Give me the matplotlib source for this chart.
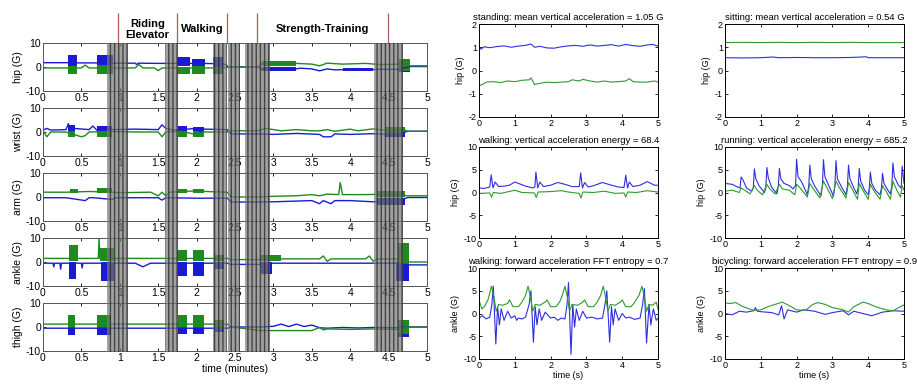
import numpy as np
import matplotlib
matplotlib.use("Agg")
import matplotlib.pyplot as plt

plt.rcParams["font.family"] = ["Liberation Sans", "DejaVu Sans"]
plt.rcParams["axes.unicode_minus"] = False
plt.rcParams["hatch.linewidth"] = 1.0

BLUE = "#1a1ad6"
GREEN = "#1f8a1f"

# ---------------- left panel data (time in minutes) ----------------
sensors = ["hip", "wrist", "arm", "ankle", "thigh"]

hip_blue = [(0, 1.8), (0.33, 1.8), (0.44, 1.7), (0.70, 1.7), (0.91, 1.6), (1.2, 1.6), (1.22, 1.0), (1.24, 1.6),
            (1.5, 1.5), (1.74, 1.5), (2.11, 1.5), (2.22, 1.4), (2.35, 1.4), (2.42, 0.0), (2.8, 0.0), (2.85, -1.0),
            (3.0, -0.6), (3.2, -1.2), (3.35, -0.5), (3.5, -0.8), (3.6, -1.6), (3.7, -0.8), (3.8, -1.2),
            (4.0, -1.0), (4.2, -1.3), (4.4, -0.9), (4.63, -1.0), (4.78, 0.2), (5.0, 0.2)]
hip_blue_bursts = [(0.33, 0.44, 0, 5), (0.70, 0.91, 0, 5), (1.74, 1.91, 0.5, 4), (1.94, 2.11, 0.5, 3.5),
                   (2.22, 2.35, 0, 4), (2.85, 3.3, -1.8, -0.2), (3.9, 4.3, -1.8, -0.3), (4.63, 4.78, -2, 1)]
hip_green = [(0, -0.4), (0.5, -0.4), (0.55, 0.8), (0.6, -0.4), (1.2, -0.4), (1.25, 1.0), (1.3, -0.4),
             (1.45, -0.4), (1.5, -1.5), (1.55, -0.4), (2.35, -0.4), (2.42, 0.0), (2.8, 0.0), (2.85, 1.5),
             (3.0, 1.0), (3.3, 1.5), (3.5, 1.2), (3.6, 0.5), (3.7, 1.6), (3.9, 1.2), (4.2, 1.5), (4.4, 1.0),
             (4.63, 1.2), (4.78, 0.5), (5.0, 0.5)]
hip_green_bursts = [(0.33, 0.44, -3, 0.5), (0.70, 0.91, -3, 1), (1.74, 1.91, -3, 0), (1.94, 2.11, -3, 0.5),
                    (2.22, 2.35, -3, 0), (2.85, 3.3, 0.3, 2.5), (4.63, 4.78, -1.5, 3.3)]

wrist_blue = [(0, 0.8), (0.05, 1.5), (0.1, 0.8), (0.3, 1.0), (0.33, 3.5), (0.36, 0.5), (0.4, 1.5), (0.6, 1.0),
              (0.65, 2.5), (0.7, 0.8), (0.9, 1.0), (1.2, 1.2), (1.5, 1.0), (1.55, 3.0), (1.6, 1.5), (1.7, 0.8),
              (2.0, 1.5), (2.05, 0.0), (2.1, 1.2), (2.4, 1.0), (2.45, -0.8), (2.8, -0.8), (3.0, -1.0),
              (3.3, -0.6), (3.6, -1.0), (3.65, -2.0), (3.75, -2.0), (3.8, -0.8), (4.0, -1.0), (4.3, -0.7),
              (4.6, -1.2), (4.75, 0.3), (5.0, 0.3)]
wrist_blue_bursts = [(0.33, 0.42, 0, 3), (0.7, 0.9, 0, 2.5), (1.76, 1.88, 0, 2.5), (1.95, 2.1, 0, 2),
                     (4.45, 4.72, -2.2, 0.3)]
wrist_green = [(0, 0.5), (0.05, -2.0), (0.1, 0.0), (0.3, 0.0), (0.5, -2.0), (0.55, -1.5), (0.6, 0.0),
               (0.9, 0.2), (1.2, 0.0), (1.5, 0.0), (1.55, -2.0), (1.6, 0.0), (1.8, 0.3), (2.05, -1.5),
               (2.1, 0.0), (2.4, 0.0), (2.45, 0.5), (2.8, 0.5), (2.9, 1.5), (3.1, 0.5), (3.3, 1.0), (3.5, 0.5),
               (3.6, 0.5), (3.7, 1.0), (3.8, 0.3), (4.0, 1.2), (4.1, 0.5), (4.3, 1.3), (4.5, 0.5), (4.7, 1.0),
               (4.75, 0.3), (5.0, 0.3)]
wrist_green_bursts = [(0.33, 0.42, -2, 0.5), (0.7, 0.9, -2, 0.5), (1.76, 1.88, -2, 0.5), (1.95, 2.1, -2, 0.3),
                      (4.45, 4.72, -0.5, 2)]

arm_blue = [(0, -0.3), (0.3, -0.3), (0.55, -1.5), (0.6, -0.3), (0.65, -0.3), (0.9, -1.0), (0.95, -0.3),
            (1.5, -0.3), (1.55, -1.3), (1.6, -0.3), (2.0, -0.5), (2.4, -0.5), (2.45, -2.1), (2.8, -2.1),
            (3.0, -2.0), (3.3, -1.7), (3.5, -1.5), (3.6, -2.8), (3.65, -1.5), (3.75, -2.8), (3.8, -1.5),
            (4.0, -1.5), (4.3, -2.0), (4.6, -1.8), (4.75, -0.2), (5.0, -0.2)]
arm_blue_bursts = [(4.35, 4.72, -3.2, -0.5)]
arm_green = [(0, 2.0), (0.3, 2.0), (0.6, 2.3), (0.9, 2.0), (1.0, 1.8), (1.4, 2.0), (1.5, 0.5), (1.55, 2.0),
             (1.6, 0.5), (1.65, 2.0), (1.8, 2.3), (2.0, 2.5), (2.2, 2.2), (2.4, 2.0), (2.45, 0.0), (2.8, 0.0),
             (3.0, 0.3), (3.3, 0.5), (3.5, 1.0), (3.6, 0.5), (3.7, 1.2), (3.85, 1.0), (3.87, 6.0), (3.9, 1.0),
             (4.2, 1.0), (4.5, 1.2), (4.75, 0.5), (5.0, 0.5)]
arm_green_bursts = [(0.35, 0.45, 1.5, 3.5), (0.7, 0.9, 1.5, 3.8), (1.76, 1.88, 1.5, 3.5), (1.95, 2.1, 1.5, 3.2),
                    (4.35, 4.72, 0, 2.5)]

ankle_blue = [(0, -0.5), (0.13, -0.5), (0.14, -2.0), (0.15, -0.5), (0.22, -0.5), (0.23, -3.0), (0.24, -0.5),
              (0.5, -0.5), (0.51, -2.5), (0.52, -0.5), (1.2, -0.5), (1.3, -2.0), (1.4, -0.5), (2.4, -0.5),
              (2.45, -1.0), (2.8, -1.0), (3.0, -0.5), (4.6, -0.5), (4.76, -1.2), (5.0, -1.2)]
ankle_blue_bursts = [(0.34, 0.43, -7, 0), (0.76, 0.92, -8, 0), (1.74, 1.88, -6, 0), (1.95, 2.1, -6, 0),
                     (2.24, 2.36, -3, 0), (2.84, 2.98, -5, 0), (4.6, 4.76, -8, 0)]
ankle_green = [(0, 1.5), (0.72, 1.5), (0.73, 10.0), (0.74, 1.5), (2.4, 1.5), (2.45, 1.0), (2.8, 1.0),
               (3.0, 1.3), (3.6, 1.3), (3.65, 2.5), (3.7, 0.3), (3.75, 1.3), (4.2, 1.3), (4.25, 2.5),
               (4.3, 0.3), (4.35, 1.3), (4.6, 1.3), (4.76, 0.0), (5.0, 0.0)]
ankle_green_bursts = [(0.34, 0.45, 0.5, 7), (0.74, 0.92, 0.5, 6), (1.74, 1.88, 0.5, 5), (1.95, 2.1, 0.5, 5),
                      (2.24, 2.36, 0.5, 3), (2.84, 3.1, 0.5, 2.8), (4.62, 4.76, -1, 8)]

thigh_blue = [(0, -0.5), (2.4, -0.5), (2.45, 0.0), (2.85, 0.0), (3.0, 0.3), (3.1, 1.2), (3.2, 0.2),
              (3.3, 1.2), (3.4, 0.2), (3.5, 0.8), (3.6, -0.3), (3.7, -0.5), (3.9, -0.2), (4.1, -0.4),
              (4.3, -0.2), (4.6, -0.3), (4.76, 0.0), (5.0, 0.0)]
thigh_blue_bursts = [(0.33, 0.42, -3.5, 0), (0.70, 0.88, -3.5, 0), (1.76, 1.87, -3, 0), (1.95, 2.1, -3, 0),
                     (2.24, 2.36, -2, 0), (4.62, 4.76, -4, 0)]
thigh_green = [(0, 1.2), (2.4, 1.2), (2.45, 0.0), (2.85, -1.5), (3.5, -1.5), (3.6, -0.2), (3.65, -1.2),
               (3.7, -0.8), (4.0, -1.0), (4.3, -0.8), (4.6, -1.0), (4.76, 0.0), (5.0, 0.0)]
thigh_green_bursts = [(0.33, 0.42, -0.5, 5), (0.70, 0.88, -0.5, 5), (1.76, 1.87, -0.5, 5), (1.95, 2.1, -0.5, 5),
                      (2.24, 2.36, 0, 3), (4.62, 4.76, -3, 3)]

left_blue = [hip_blue, wrist_blue, arm_blue, ankle_blue, thigh_blue]
left_blue_bursts = [hip_blue_bursts, wrist_blue_bursts, arm_blue_bursts, ankle_blue_bursts, thigh_blue_bursts]
left_green = [hip_green, wrist_green, arm_green, ankle_green, thigh_green]
left_green_bursts = [hip_green_bursts, wrist_green_bursts, arm_green_bursts, ankle_green_bursts, thigh_green_bursts]

# transition periods (gray) and activity labels
gray_bands = [(0.83, 1.11), (1.59, 1.76), (2.21, 2.40), (2.41, 2.57), (2.63, 2.96), (4.31, 4.69)]
label_lines = [0.98, 1.74, 2.40, 2.79, 4.49]
activity_labels = ["Riding\nElevator", "Walking", "Strength-Training"]
activity_pos = [1.36, 2.07, 3.64]

# ---------------- right panel data (time in seconds) ----------------
stand_blue = [(0, 1.0), (0.05, 0.92), (0.15, 1.02), (0.3, 0.98), (0.5, 1.03), (0.7, 1.06), (0.9, 1.0),
              (1.1, 1.05), (1.3, 1.08), (1.45, 1.14), (1.55, 1.0), (1.7, 1.04), (1.9, 0.97), (2.1, 0.96),
              (2.3, 1.02), (2.5, 1.06), (2.7, 1.08), (2.9, 1.04), (3.1, 1.1), (3.3, 1.05), (3.5, 1.08),
              (3.7, 1.11), (3.9, 1.05), (4.1, 1.12), (4.3, 1.07), (4.5, 1.04), (4.7, 1.1), (4.85, 1.12), (5.0, 1.05)]
stand_green = [(0, -0.65), (0.1, -0.6), (0.2, -0.5), (0.4, -0.48), (0.6, -0.52), (0.8, -0.45), (1.0, -0.48),
               (1.2, -0.42), (1.4, -0.4), (1.45, -0.32), (1.5, -0.45), (1.55, -0.6), (1.7, -0.55), (1.9, -0.5),
               (2.1, -0.52), (2.3, -0.5), (2.5, -0.48), (2.6, -0.4), (2.8, -0.45), (2.9, -0.38), (3.1, -0.45),
               (3.3, -0.5), (3.5, -0.45), (3.7, -0.5), (3.9, -0.48), (4.1, -0.45), (4.2, -0.35), (4.3, -0.48),
               (4.5, -0.5), (4.7, -0.5), (4.9, -0.45), (5.0, -0.5)]

sit_blue = [(0, 0.55), (0.5, 0.54), (1.0, 0.55), (1.35, 0.58), (1.5, 0.55), (2.0, 0.56), (2.5, 0.55),
            (3.0, 0.55), (3.5, 0.56), (3.95, 0.59), (4.0, 0.55), (4.5, 0.55), (5.0, 0.55)]
sit_green = [(0, 1.2), (0.5, 1.21), (1.0, 1.2), (1.5, 1.21), (2.0, 1.2), (2.5, 1.21), (3.0, 1.2),
             (3.5, 1.21), (4.0, 1.2), (4.5, 1.2), (5.0, 1.2)]

walk_hip_blue = [(0, 1.0), (0.15, 0.9), (0.3, 1.2), (0.34, 3.9), (0.39, 1.0), (0.45, 2.3), (0.55, 1.3),
                 (0.7, 1.4), (0.85, 1.6), (1.0, 2.3), (1.1, 2.0), (1.3, 1.4), (1.5, 1.0), (1.56, 1.2),
                 (1.59, 4.5), (1.64, 1.0), (1.7, 2.3), (1.8, 1.3), (2.0, 1.6), (2.2, 2.2), (2.4, 1.8),
                 (2.6, 1.3), (2.8, 1.3), (2.84, 4.3), (2.89, 1.0), (2.95, 2.2), (3.05, 1.2), (3.2, 1.5),
                 (3.45, 2.2), (3.7, 1.6), (3.9, 1.2), (4.05, 1.1), (4.1, 3.8), (4.15, 1.0), (4.2, 2.3),
                 (4.3, 1.3), (4.5, 1.6), (4.7, 2.4), (4.9, 1.6), (5.0, 1.6)]
walk_hip_green = [(0, -0.2), (0.3, -0.1), (0.35, -1.0), (0.4, 0.0), (0.6, -0.2), (1.0, 0.5), (1.2, 0.0),
                  (1.55, -0.1), (1.6, -1.1), (1.65, 0.1), (2.0, 0.2), (2.3, 0.4), (2.5, 0.1), (2.8, -0.2),
                  (2.85, -1.2), (2.9, 0.1), (3.2, 0.0), (3.5, 0.3), (3.8, -0.2), (4.05, -0.1), (4.1, -1.0),
                  (4.15, 0.1), (4.4, 0.0), (4.7, 0.4), (5.0, 0.1)]

run_hip_blue = [(0, 2.0), (0.2, 1.8), (0.35, 1.2), (0.42, 1.0), (0.45, 3.4), (0.5, 2.8), (0.6, 1.0),
                (0.75, 0.3), (0.79, 1.0), (0.82, 5.2), (0.86, 3.0), (0.95, 1.5), (1.1, 0.0), (1.14, 1.0),
                (1.17, 5.5), (1.21, 3.2), (1.3, 1.2), (1.45, -0.3), (1.49, 1.5), (1.52, 5.3), (1.56, 3.0),
                (1.65, 2.0), (1.8, 1.5), (1.9, 0.8), (1.97, 1.5), (2.0, 7.3), (2.04, 3.5), (2.15, 2.2),
                (2.3, -0.5), (2.34, 1.5), (2.37, 6.0), (2.41, 3.0), (2.5, 1.5), (2.68, -0.8), (2.72, 1.5),
                (2.75, 7.2), (2.79, 3.5), (2.9, 1.5), (3.03, -0.8), (3.07, 1.5), (3.1, 7.0), (3.14, 3.0),
                (3.25, 1.3), (3.38, -0.5), (3.42, 1.5), (3.45, 6.0), (3.49, 3.0), (3.6, 1.0), (3.68, -0.3),
                (3.72, 1.0), (3.75, 5.3), (3.79, 2.5), (3.9, 0.5), (4.0, -0.5), (4.03, 1.0), (4.06, 4.5),
                (4.1, 2.0), (4.2, 0.5), (4.33, -0.5), (4.37, 1.0), (4.4, 4.2), (4.44, 2.0), (4.55, 0.5),
                (4.62, -0.3), (4.66, 1.5), (4.69, 6.5), (4.73, 3.5), (4.85, 1.5), (4.92, 1.0), (4.95, 5.8),
                (5.0, 2.0)]
run_hip_green = [(0, 0.3), (0.2, 0.5), (0.4, 0.0), (0.45, 1.0), (0.55, 0.5), (0.7, -0.3), (0.82, 1.5),
                 (0.9, 0.5), (1.05, -0.5), (1.17, 1.8), (1.25, 0.8), (1.4, -0.3), (1.52, 1.8), (1.6, 0.8),
                 (1.8, 0.5), (1.95, -0.5), (2.0, 1.8), (2.1, 1.0), (2.3, -1.0), (2.37, 2.0), (2.45, 1.0),
                 (2.65, -1.2), (2.75, 2.5), (2.85, 1.0), (3.0, -1.3), (3.1, 2.5), (3.2, 1.0), (3.38, -1.2),
                 (3.45, 2.2), (3.55, 0.8), (3.7, -1.5), (3.75, 2.0), (3.85, 0.5), (4.0, -1.5), (4.06, 1.8),
                 (4.15, 0.5), (4.33, -1.5), (4.4, 1.5), (4.5, 0.3), (4.62, -1.5), (4.69, 2.5), (4.8, 0.5),
                 (4.9, -1.0), (4.95, 1.5), (5.0, 0.5)]

walk_ank_blue = [(0, -1.0), (0.1, -0.5), (0.2, -1.2), (0.3, -0.8), (0.36, 2.0), (0.4, 6.0), (0.47, -6.7),
                 (0.52, 1.5), (0.57, -2.5), (0.62, 1.0), (0.7, -1.5), (0.8, 0.5), (0.9, -1.0), (1.0, -0.5),
                 (1.05, -1.5), (1.1, -1.0), (1.2, -1.2), (1.3, -0.8), (1.4, 2.0), (1.45, 5.0), (1.52, -6.3),
                 (1.57, 1.5), (1.62, -2.5), (1.68, 1.0), (1.75, -1.5), (1.85, 0.3), (2.0, -1.0), (2.1, -0.8),
                 (2.2, -1.5), (2.3, -1.0), (2.4, -1.2), (2.46, 2.0), (2.5, 6.8), (2.57, -9.0), (2.62, 2.0),
                 (2.67, -3.0), (2.72, 1.0), (2.8, -1.5), (2.9, 0.5), (3.0, -1.0), (3.15, -0.8), (3.3, -1.2),
                 (3.45, -1.0), (3.52, 2.0), (3.57, 5.0), (3.65, -6.3), (3.7, 1.5), (3.75, -2.5), (3.8, 1.0),
                 (3.9, -1.5), (4.0, 0.0), (4.1, -1.0), (4.2, -0.8), (4.35, -1.3), (4.5, -1.0), (4.57, 2.0),
                 (4.62, 5.5), (4.68, -6.5), (4.75, 2.0), (4.8, -2.5), (4.87, 1.0), (4.95, -1.5), (5.0, -1.0)]
walk_ank_green = [(0, 3.0), (0.08, 1.0), (0.15, 1.5), (0.25, 3.0), (0.35, 6.0), (0.42, 3.5), (0.48, 0.5),
                  (0.55, 2.0), (0.65, 1.8), (0.8, 2.2), (0.85, 3.0), (0.95, 1.5), (1.1, 1.5), (1.2, 2.5),
                  (1.3, 4.0), (1.37, 6.0), (1.44, 3.5), (1.5, 0.5), (1.57, 2.0), (1.7, 1.8), (1.85, 2.5),
                  (1.9, 3.0), (2.0, 1.5), (2.15, 1.5), (2.25, 2.5), (2.33, 4.0), (2.4, 6.0), (2.47, 3.5),
                  (2.53, 0.5), (2.6, 2.0), (2.75, 1.8), (2.9, 2.5), (2.95, 3.0), (3.05, 1.5), (3.2, 1.5),
                  (3.3, 2.5), (3.4, 4.0), (3.47, 6.0), (3.54, 3.5), (3.6, 0.5), (3.67, 2.0), (3.8, 1.8),
                  (3.95, 2.5), (4.0, 3.0), (4.1, 1.5), (4.25, 1.5), (4.35, 2.5), (4.47, 4.0), (4.55, 6.0),
                  (4.62, 3.5), (4.68, 0.5), (4.75, 2.0), (4.85, 1.8), (4.95, 2.5), (5.0, 1.0)]

bike_ank_blue = [(0, 0.0), (0.2, -0.3), (0.4, 0.5), (0.6, 0.3), (0.8, 0.6), (0.85, 1.3), (0.9, 0.5),
                 (1.0, 0.4), (1.3, 0.2), (1.5, -0.3), (1.58, 1.7), (1.65, -1.2), (1.75, 0.8), (2.0, 0.3),
                 (2.2, 0.8), (2.5, 0.5), (2.8, -0.2), (3.0, 0.2), (3.3, 0.6), (3.45, -0.3), (3.6, 0.5),
                 (3.8, 0.1), (4.1, -0.5), (4.4, 0.3), (4.7, 0.6), (5.0, 0.5)]
bike_ank_green = [(0, 2.3), (0.15, 2.2), (0.3, 2.4), (0.5, 1.5), (0.8, 0.7), (1.0, 0.8), (1.2, 1.5),
                  (1.4, 2.0), (1.6, 2.5), (1.8, 1.7), (2.0, 0.8), (2.2, 0.7), (2.3, 1.0), (2.45, 2.0),
                  (2.6, 2.4), (2.8, 2.0), (3.0, 1.3), (3.3, 0.8), (3.45, 0.3), (3.6, 1.5), (3.85, 2.5),
                  (4.0, 2.2), (4.2, 1.5), (4.5, 0.8), (4.7, 0.6), (4.85, 1.3), (5.0, 1.9)]

right_titles = ["standing: mean vertical acceleration = 1.05 G",
                "sitting: mean vertical acceleration = 0.54 G",
                "walking: vertical acceleration energy = 68.4",
                "running: vertical acceleration energy = 685.2",
                "walking: forward acceleration FFT entropy = 0.7",
                "bicycling: forward acceleration FFT entropy = 0.9"]
right_ylabels = ["hip (G)", "hip (G)", "hip (G)", "hip (G)", "ankle (G)", "ankle (G)"]
right_blue = [stand_blue, sit_blue, walk_hip_blue, run_hip_blue, walk_ank_blue, bike_ank_blue]
right_green = [stand_green, sit_green, walk_hip_green, run_hip_green, walk_ank_green, bike_ank_green]

# ---------------- figure ----------------
W, H = 917, 386
fig = plt.figure(figsize=(W / 100, H / 100), dpi=100)


def px_axes(left, top, width, height):
    return fig.add_axes([left / W, (H - top - height) / H, width / W, height / H])


def style_ticks(ax, size):
    ax.tick_params(direction="in", top=True, right=True, length=2.5, width=0.6,
                   labelsize=size, pad=1.5)


for i, name in enumerate(sensors):
    ax = px_axes(43, 43 + 65 * i, 384, 48)
    for pts, bursts, col in [(left_blue[i], left_blue_bursts[i], BLUE),
                             (left_green[i], left_green_bursts[i], GREEN)]:
        t, v = zip(*pts)
        ax.plot(t, v, color=col, lw=1.0)
        for t0, t1, lo, hi in bursts:
            ax.fill_between([t0, t1], lo, hi, color=col, lw=0)
    ax.set_xlim(0, 5)
    ax.set_ylim(-10, 10)
    ax.set_xticks(np.arange(0, 5.01, 0.5))
    ax.set_xticklabels(["0", "0.5", "1", "1.5", "2", "2.5", "3", "3.5", "4", "4.5", "5"])
    ax.set_yticks([-10, 0, 10])
    style_ticks(ax, 7.5)
    ax.tick_params(right=False)
    for s in ax.spines.values():
        s.set_color("#555555")
        s.set_linewidth(0.7)
    ax.set_ylabel(f"{name} (G)", fontsize=7.5, labelpad=2)
    if i == len(sensors) - 1:
        ax.set_xlabel("time (minutes)", fontsize=7.5, labelpad=1)

# gray transition bands over all five sensor plots
ov = px_axes(43, 43, 384, 309)
ov.set_xlim(0, 5)
ov.set_ylim(0, 1)
ov.axis("off")
for t0, t1 in gray_bands:
    ov.axvspan(t0, t1, facecolor="#7a7a7a", alpha=0.7, edgecolor="#1e1e1e", hatch="||||", lw=0)

# activity labels
hd = px_axes(43, 13, 384, 30)
hd.set_xlim(0, 5)
hd.set_ylim(0, 1)
hd.axis("off")
hd.vlines(label_lines, 0, 1, color="#b35a5a", lw=0.9)
for lab, x in zip(activity_labels, activity_pos):
    hd.text(x, 0.45, lab, ha="center", va="center", fontsize=8, fontweight="bold",
            linespacing=1.1)

# right hand examples
col_left = [479, 725]
row_top = [24, 147, 268]
row_h = [93, 91, 91]
for k in range(6):
    r, c = divmod(k, 2)
    ax = px_axes(col_left[c], row_top[r], 179, row_h[r])
    bt, bv = zip(*right_blue[k])
    gt, gv = zip(*right_green[k])
    ax.plot(bt, bv, color="#2f2fe0", lw=0.8)
    ax.plot(gt, gv, color="#2e9a2e", lw=0.8)
    ax.set_xlim(0, 5)
    if r == 0:
        ax.set_ylim(-2, 2)
        ax.set_yticks([-2, -1, 0, 1, 2])
    else:
        ax.set_ylim(-10, 10)
        ax.set_yticks([-10, -5, 0, 5, 10])
    ax.set_xticks(range(6))
    style_ticks(ax, 6.5)
    for s in ax.spines.values():
        s.set_linewidth(0.7)
    ax.set_title(right_titles[k], fontsize=6.8, pad=3)
    ax.set_ylabel(right_ylabels[k], fontsize=6.5, labelpad=3)
    if r == 2:
        ax.set_xlabel("time (s)", fontsize=6.5, labelpad=1)

fig.savefig("out.png", dpi=100)
